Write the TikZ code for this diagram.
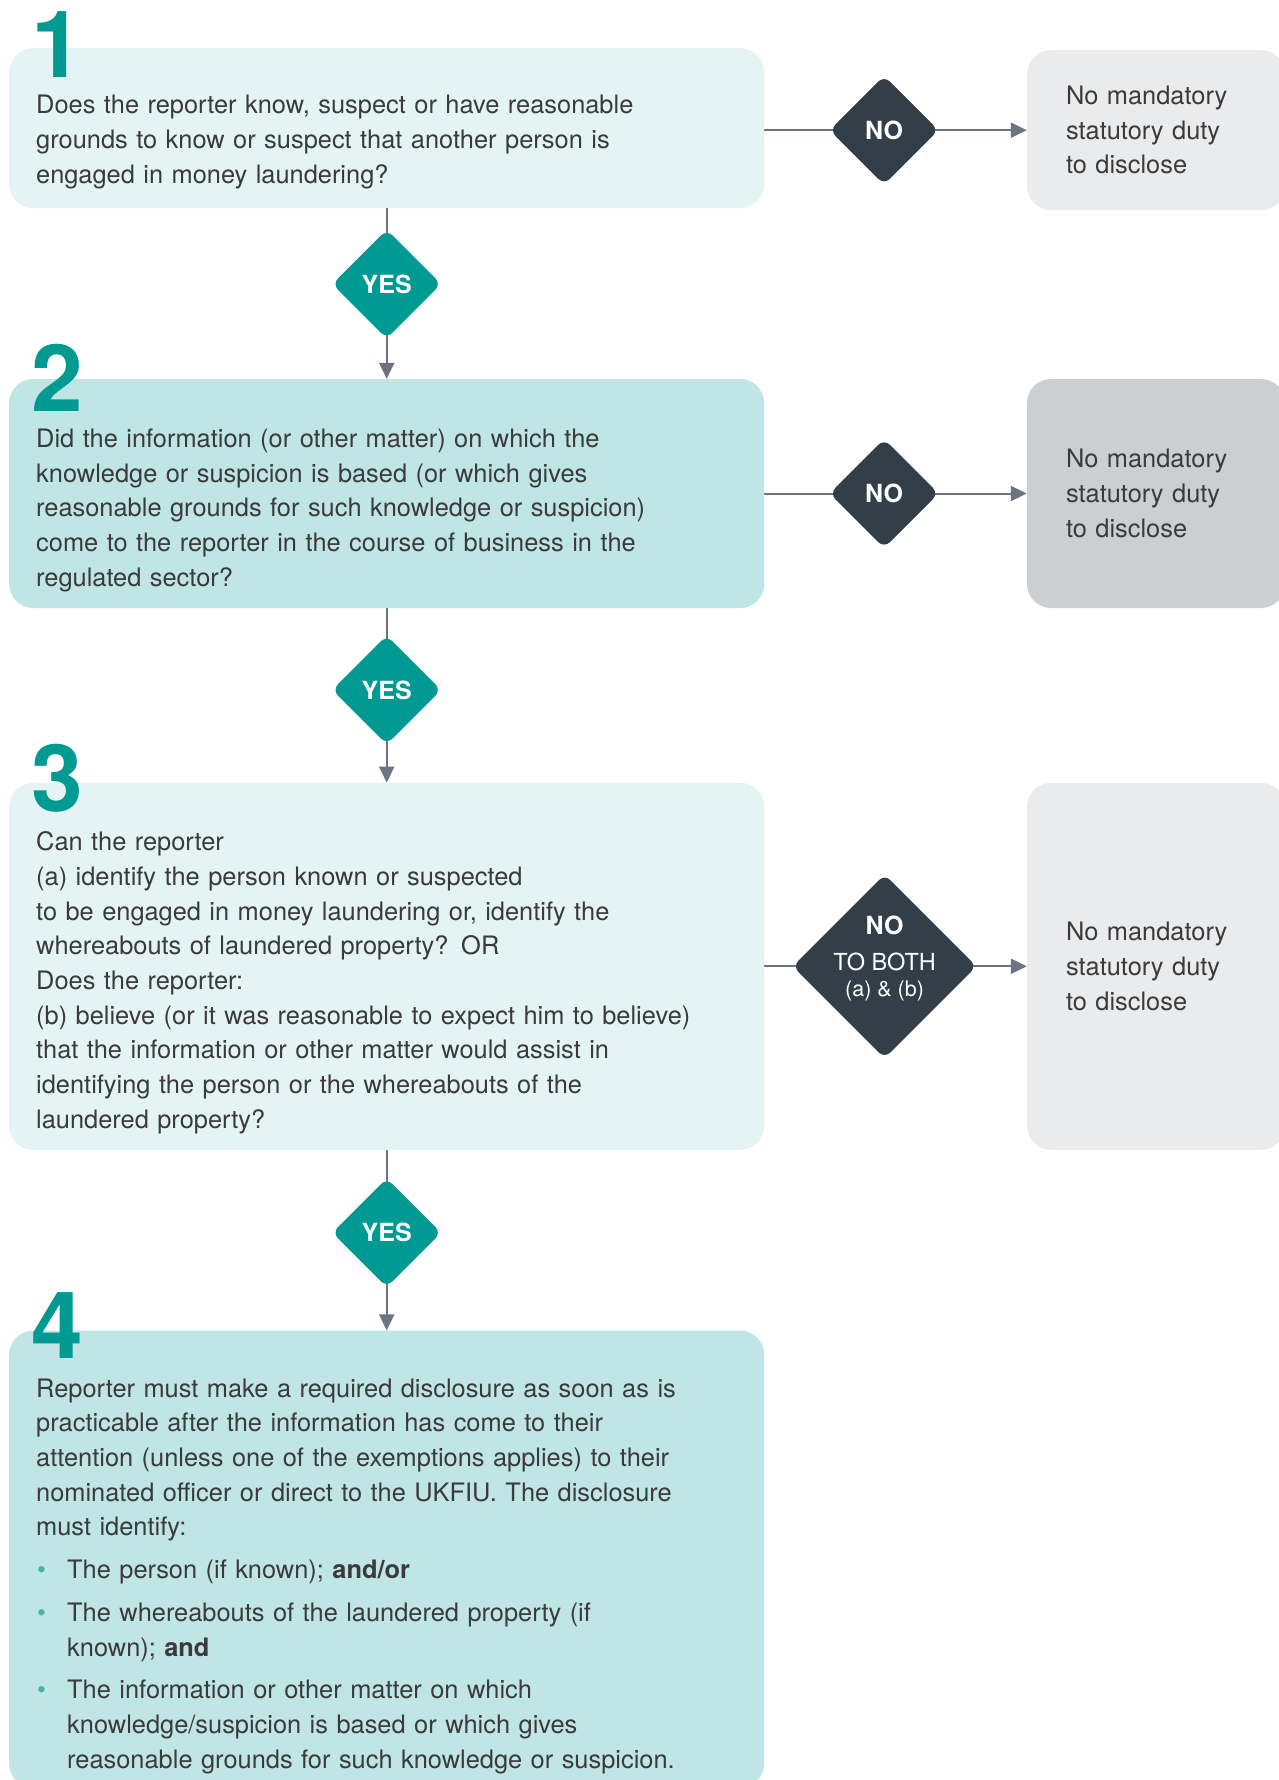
\documentclass[tikz,border=0pt]{standalone}
\usepackage{fontspec}
\setmainfont{TeX Gyre Heros}
\usetikzlibrary{positioning,shapes.geometric,arrows.meta,backgrounds}

\definecolor{tealmain}{HTML}{009A93}
\definecolor{tealpale}{HTML}{E4F4F4}
\definecolor{tealsoft}{HTML}{BFE5E4}
\definecolor{greypale}{HTML}{EAEBED}
\definecolor{greysoft}{HTML}{CBCFD2}
\definecolor{slate}{HTML}{323E48}
\definecolor{linkgrey}{HTML}{6B7480}
\definecolor{inkgrey}{HTML}{3A3A3A}
\definecolor{dotteal}{HTML}{45B3AD}

\newcommand{\bodyfont}{\fontsize{25.4pt}{34.7pt}\selectfont}
\newcommand{\bulletrow}[1]{\par\vspace{8pt}\noindent\hangindent=31pt\hangafter=0
  \llap{\makebox[31pt][l]{\hspace{1pt}\textcolor{dotteal}{\textbullet}}}#1\par}

\tikzset{
  qbox/.style={rectangle, rounded corners=24pt, minimum width=755pt, inner sep=0pt},
  outbox/.style={rectangle, rounded corners=24pt, minimum width=258pt, text width=180pt,
    inner xsep=39pt, inner ysep=0pt, align=left, text=inkgrey, font=\bodyfont},
  qtext/.style={inner sep=0pt, text width=700pt, align=left, text=inkgrey, font=\bodyfont},
  stepnum/.style={inner sep=0pt, text=tealmain, font=\fontsize{93pt}{93pt}\selectfont\bfseries},
  yesdiam/.style={diamond, aspect=1, minimum size=109pt, inner sep=0pt, rounded corners=8pt,
    fill=tealmain, text=white, font=\fontsize{25pt}{25pt}\selectfont\bfseries},
  nodiam/.style={yesdiam, fill=slate},
  link/.style={draw=linkgrey, line width=2pt},
  linkarrow/.style={link, -{Triangle[length=16pt, width=15pt]}},
}

\begin{document}
\begin{tikzpicture}[x=1pt, y=1pt]

  \useasboundingbox (0,0) rectangle (1279,-1780);

  % Question boxes
  \node[qbox, fill=tealpale, minimum height=160pt, anchor=north west] (q1) at (9,-48) {};
  \node[yesdiam, below=21pt of q1]  (yes1) {YES};
  \node[qbox, fill=tealsoft, minimum height=229pt, below=40pt of yes1]  (q2) {};
  \node[yesdiam, below=27pt of q2]  (yes2) {YES};
  \node[qbox, fill=tealpale, minimum height=367pt, below=38pt of yes2]  (q3) {};
  \node[yesdiam, below=28pt of q3]  (yes3) {YES};
  \node[qbox, fill=tealsoft, minimum height=457pt, below=43pt of yes3]  (q4) {};

  % No branches
  \node[nodiam, right=65pt of q1, yshift=-2pt]  (no1) {NO};
  \node[outbox, fill=greypale, minimum height=160pt, right=88pt of no1]  (out1) {No mandatory\\statutory duty\\to disclose};
  \node[nodiam, right=65pt of q2]  (no2) {NO};
  \node[outbox, fill=greysoft, minimum height=229pt, right=88pt of no2]  (out2) {No mandatory\\statutory duty\\to disclose};
  \node[nodiam, minimum size=184pt, font=\fontsize{23.5pt}{30pt}\selectfont, right=28pt of q3]  (no3)
    {\raisebox{0.5pt}[0pt][0pt]{\begin{tabular}{@{}c@{}}
       \bfseries\fontsize{25pt}{30pt}\selectfont NO\\[6pt]
       TO BOTH\\[-4pt]
       \fontsize{21.5pt}{30pt}\selectfont (a) \& (b)
     \end{tabular}}};
  \node[outbox, fill=greypale, minimum height=367pt, right=50pt of no3]  (out3) {No mandatory\\statutory duty\\to disclose};

  % Step numbers
  \node[stepnum, above right=-30pt and 22pt of q1.north west]  (n1) {1};
  \node[stepnum, above right=-33pt and 22pt of q2.north west]  (n2) {2};
  \node[stepnum, above right=-30pt and 22pt of q3.north west]  (n3) {3};
  \node[stepnum, above right=-28pt and 22pt of q4.north west]  (n4) {4};

  % Question texts
  \node[qtext, below right=47pt and 27pt of q1.north west]  (t1)
    {Does the reporter know, suspect or have reasonable\\
     grounds to know or suspect that another person is\\
     engaged in money laundering?};
  \node[qtext, below right=50pt and 27pt of q2.north west]  (t2)
    {Did the information (or other matter) on which the\\
     knowledge or suspicion is based (or which gives\\
     reasonable grounds for such knowledge or suspicion)\\
     come to the reporter in the course of business in the\\
     regulated sector?};
  \node[qtext, below right=49pt and 27pt of q3.north west]  (t3)
    {Can the reporter\\
     (a) identify the person known or suspected\\
     to be engaged in money laundering or, identify the\\
     whereabouts of laundered property? OR\\
     Does the reporter:\\
     (b) believe (or it was reasonable to expect him to believe)\\
     that the information or other matter would assist in\\
     identifying the person or the whereabouts of the\\
     laundered property?};
  \node[qtext, below right=48pt and 27pt of q4.north west]  (t4)
    {Reporter must make a required disclosure as soon as is\\
     practicable after the information has come to their\\
     attention (unless one of the exemptions applies) to their\\
     nominated officer or direct to the UKFIU. The disclosure\\
     must identify:
     \bulletrow{The person (if known); \textbf{and/or}}
     \bulletrow{The whereabouts of the laundered property (if\newline known); \textbf{and}}
     \bulletrow{The information or other matter on which\newline knowledge/suspicion is based or which gives\newline reasonable grounds for such knowledge or suspicion.}};

  % Connect the nodes
  \begin{scope}[on background layer]
    \fill[white] (0,0) rectangle (1279,-1780);
    \draw[link] (q1.east |- no1) -- (no1.center);
    \draw[linkarrow] (no1.center) -- (out1);
    \draw[link] (q2) -- (no2.center);
    \draw[linkarrow] (no2.center) -- (out2);
    \draw[link] (q3) -- (no3.center);
    \draw[linkarrow] (no3.center) -- (out3);
    \draw[link] (q1) -- (yes1.center);
    \draw[linkarrow] (yes1.center) -- (q2);
    \draw[link] (q2) -- (yes2.center);
    \draw[linkarrow] (yes2.center) -- (q3);
    \draw[link] (q3) -- (yes3.center);
    \draw[linkarrow] (yes3.center) -- (q4);
  \end{scope}

\end{tikzpicture}
\end{document}
